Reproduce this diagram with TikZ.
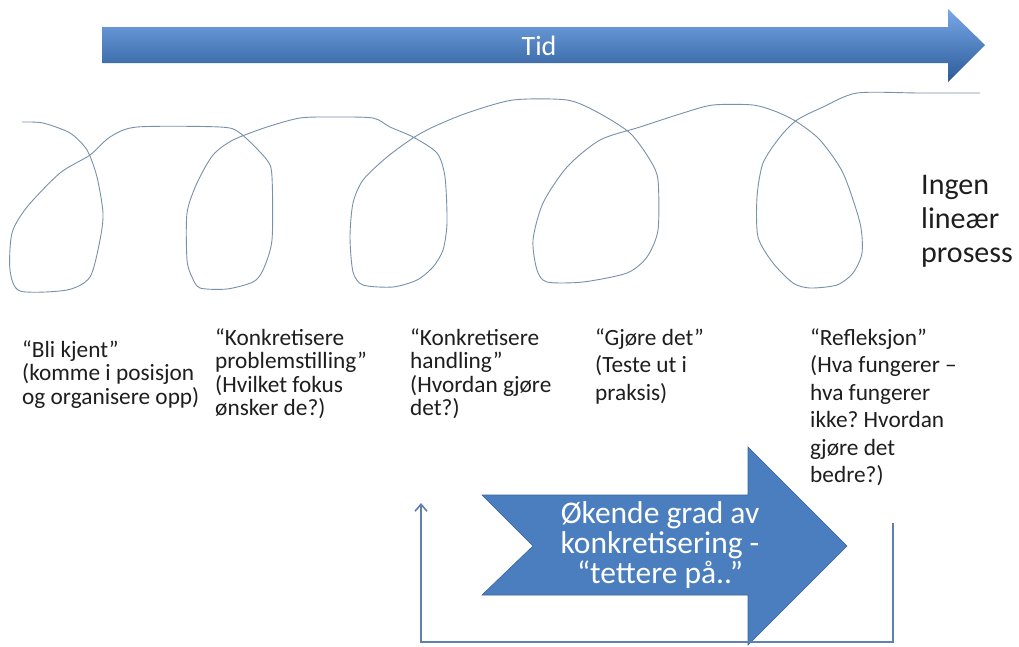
\documentclass[tikz,border=0pt]{standalone}
\usepackage{fontspec}
\setmainfont{Carlito}
\frenchspacing
\usetikzlibrary{arrows.meta}
\definecolor{tidtop}{HTML}{78A8E8}
\definecolor{tidmid}{HTML}{3D78C4}
\definecolor{tidbot}{HTML}{2C5A98}
\definecolor{bigfill}{HTML}{4A7EBE}
\definecolor{bigline}{HTML}{3A659F}
\definecolor{spiralc}{HTML}{7891AB}
\definecolor{connc}{HTML}{5F80B0}
\definecolor{txt}{HTML}{1E1E1E}
\begin{document}
\begin{tikzpicture}[x=1pt,y=-1pt,
  blocktext/.style={anchor=base west, inner sep=0pt, text=txt, font=\fontsize{23.3}{23.5}\selectfont},
  blocktextwide/.style={anchor=base west, inner sep=0pt, text=txt, font=\fontsize{23.3}{27.5}\selectfont},
  bigtext/.style={inner sep=0pt, text=white, align=center, font=\fontsize{31.5}{30}\selectfont},
  spiral/.style={draw=spiralc, line width=0.9pt, line join=round},
  conn/.style={draw=connc, line width=2pt, -{Straight Barb[length=7pt,width=12pt,line width=1.6pt]}}
]
\useasboundingbox (0,0) rectangle (1019,646);
\fill[white] (0,0) rectangle (1019,646);

% top arrow "Tid"
\shade[top color=tidtop, middle color=tidmid, bottom color=tidbot]
  (102,27) -- (948,27) -- (948,9) -- (985,45) -- (948,82) -- (948,63) -- (102,63) -- cycle;
\node[text=white, font=\fontsize{28}{30}\selectfont, inner sep=0pt] (tid) at (539,46) {Tid};

% spiral
\draw[spiral] plot[smooth, tension=0.45] coordinates {
 (22,122) (43,123) (70,133) (87,150) (97,177) (103,213) (100,240) (90,277) (67,290) (20,291)
 (10,270) (12,233) (27,207) (60,173) (90,155) (110,137) (137,127) (220,127) (240,133) (267,160)
 (272,177) (272,240) (263,270) (253,282) (227,289) (200,288) (192,277) (187,260) (187,213) (197,183)
 (213,155) (233,140) (267,127) (300,118) (333,117) (373,118) (390,127) (413,137) (437,153) (445,177)
 (447,223) (443,250) (433,267) (417,280) (393,287) (363,285) (353,272) (350,237) (353,203) (363,180)
 (387,157) (413,138) (433,127) (467,113) (513,100) (567,100) (597,112) (630,133) (650,160) (658,180)
 (658,230) (647,257) (627,273) (583,282) (547,282) (537,270) (533,240) (543,203) (567,167) (600,140)
 (640,127) (683,113) (713,105) (753,105) (777,112) (797,122) (820,140) (843,173) (860,223) (862,253)
 (853,273) (837,285) (810,288) (793,283) (773,263) (758,237) (757,197) (763,163) (780,137) (797,120)
 (823,107) (857,93) (920,93) (980,93)};

% side label
\node[anchor=base west, inner sep=0pt, text=txt, font=\fontsize{30}{34}\selectfont] (ingen) at (921,194)
  {\parbox[t]{120pt}{Ingen\\lineær\\prosess}};

% text blocks
\node[blocktext] (b1) at (22,357) {\parbox[t]{200pt}{“Bli kjent”\\(komme i posisjon\\og organisere opp)}};
\node[blocktext] (b2) at (215,345) {\parbox[t]{200pt}{“Konkretisere\\problemstilling”\\(Hvilket fokus\\ønsker de?)}};
\node[blocktext] (b3) at (410,345) {\parbox[t]{200pt}{“Konkretisere\\handling”\\(Hvordan gjøre\\det?)}};
\node[blocktextwide] (b4) at (595,345) {\parbox[t]{200pt}{“Gjøre det”\\(Teste ut i\\praksis)}};
\node[blocktextwide] (b5) at (810,345) {\parbox[t]{200pt}{“Refleksjon”\\(Hva fungerer –\\hva fungerer\\ikke? Hvordan\\gjøre det\\bedre?)}};

% big notched arrow
\fill[bigfill, draw=bigline, line width=0.6pt]
  (482,495) -- (748,495) -- (748,447) -- (847,546) -- (748,645) -- (748,595) -- (482,595) -- (533,546) -- cycle;
\node[bigtext] (big) at (660,545) {Økende grad av\\konkretisering -\\“tettere på..”};

% feedback connector
\coordinate (c1) at (893,523);
\coordinate (c2) at (893,642);
\coordinate (c3) at (421,642);
\coordinate (c4) at (421,503);
\draw[conn] (c1) -- (c2) -- (c3) -- (c4);
\end{tikzpicture}
\end{document}
